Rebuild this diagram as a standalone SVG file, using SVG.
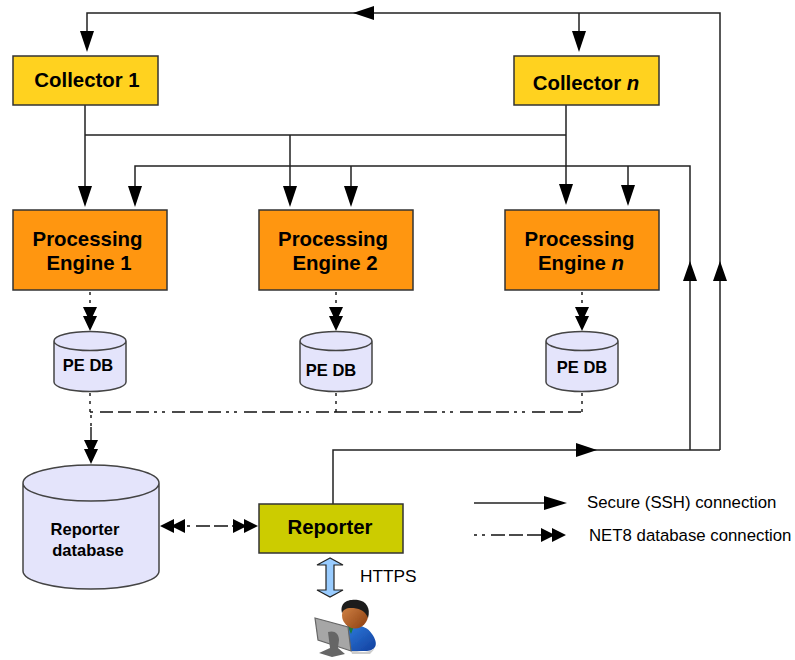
<svg xmlns="http://www.w3.org/2000/svg" width="795" height="660" viewBox="0 0 795 660">
<style>
text{font-family:"Liberation Sans",Arial,sans-serif;fill:#000}
.b{font-weight:bold;font-size:20.400px;text-anchor:middle}
.s{font-weight:bold;font-size:16.500px;text-anchor:middle}
.r{font-weight:bold;font-size:16.500px;text-anchor:middle}
.l{font-size:16.800px}
.box{stroke:#333;stroke-width:1.5}
.db{fill:#e4e4fb;stroke:#444;stroke-width:1.5}
.c{fill:none;stroke:#222;stroke-width:1.5}
.d{fill:none;stroke:#111;stroke-width:1.4;stroke-dasharray:13 5 13 5 13 5 3 5 3 7;stroke-dashoffset:62}
.o{fill:none;stroke:#111;stroke-width:1.4;stroke-dasharray:3 5}
.h{fill:#000}
</style>
<defs>
<path id="a" class="h" d="M-7-21H7L0 0Z"/>
<g id="aa"><path class="h" d="M-7-24H7L0-9Z"/><path class="h" d="M-7-15H7L0 0Z"/></g>
<linearGradient id="skin" x1="0" y1="0" x2="1" y2="1"><stop offset="0" stop-color="#d98a4a"/><stop offset="1" stop-color="#8a3d10"/></linearGradient>
<linearGradient id="suit" x1="0" y1="0" x2="1" y2="1"><stop offset="0" stop-color="#2f7fe0"/><stop offset="1" stop-color="#123f9e"/></linearGradient>
<filter id="soft" x="-10%" y="-10%" width="120%" height="120%"><feGaussianBlur stdDeviation="0.5"/></filter>
</defs>
<g id="connectors">
<path class="c" d="M720 450V13H87V40M579 13V40M85 105V190M85 135H566M566 105V190M290 135V190M135 190V166H690V450M351 166V190M628 166V190M333 505V450H720"/>
<use href="#a" x="87" y="52"/><use href="#a" x="579" y="52"/>
<path class="h" d="M353 13L374 6V20Z"/>
<use href="#a" x="85" y="207"/><use href="#a" x="135" y="207"/><use href="#a" x="290" y="207"/><use href="#a" x="351" y="207"/><use href="#a" x="566" y="205"/><use href="#a" x="628" y="206"/>
<path class="h" d="M690 261L683 281H697ZM720 261L713 281H727ZM597 450L576 443V457Z"/>
<path class="o" d="M90 292V310M336 292V310M582 292V310M90 393V412M336 393V412M582 393V412M91 415V426"/>
<path class="d" d="M90 412H582"/>
<path class="c" d="M91 427V445"/>
<use href="#aa" x="90" y="331"/><use href="#aa" x="336" y="331"/><use href="#aa" x="582" y="331"/><use href="#aa" x="91" y="464"/>
<path class="d" style="stroke-dasharray:3 6 14 4 14 4;stroke-dashoffset:0" d="M187 526H237"/>
<path class="h" d="M160 526L174 519V533ZM171 526L185 519V533ZM258 526L244 519V533ZM247 526L233 519V533Z"/>
<path class="c" d="M474 503H545"/><path class="h" d="M567 503L544 496V510Z"/>
<path class="d" style="stroke-dasharray:3 5 3 6 14 4 14 4 14 4;stroke-dashoffset:0" d="M474 535H545"/><path class="h" d="M555 535L541 528V542ZM566 535L552 528V542Z"/>
</g>
<g id="collector-1"><rect class="box" x="13" y="56" width="145" height="49" fill="#ffd21f"/><text class="b" x="87" y="87">Collector 1</text></g>
<g id="collector-n"><rect class="box" x="514" y="56" width="145" height="49" fill="#ffd21f"/><text class="b" x="586" y="90">Collector <tspan font-style="italic">n</tspan></text></g>
<g id="pe-1"><rect class="box" x="13" y="210" width="154" height="80" fill="#ff9610"/><text class="b" x="87.500" y="246">Processing</text><text class="b" x="89" y="270">Engine 1</text></g>
<g id="pe-2"><rect class="box" x="259" y="210" width="154" height="80" fill="#ff9610"/><text class="b" x="333" y="246">Processing</text><text class="b" x="335" y="270">Engine 2</text></g>
<g id="pe-n"><rect class="box" x="505" y="210" width="154" height="80" fill="#ff9610"/><text class="b" x="579.500" y="246">Processing</text><text class="b" x="581" y="270">Engine <tspan font-style="italic">n</tspan></text></g>
<g id="pedb-1"><path class="db" d="M54 341V382A36 9.500 0 0 0 126 382V341A36 9.500 0 0 0 54 341A36 9.500 0 0 0 126 341"/><text class="s" x="88" y="371">PE DB</text></g>
<g id="pedb-2"><path class="db" d="M300 341V382A36 9.500 0 0 0 372 382V341A36 9.500 0 0 0 300 341A36 9.500 0 0 0 372 341"/><text class="s" x="331" y="376">PE DB</text></g>
<g id="pedb-n"><path class="db" d="M546 341V382A36 9.500 0 0 0 618 382V341A36 9.500 0 0 0 546 341A36 9.500 0 0 0 618 341"/><text class="s" x="582" y="373">PE DB</text></g>
<g id="reporter-db"><path class="db" d="M23 483V571A68 18 0 0 0 159 571V483A68 18 0 0 0 23 483A68 18 0 0 0 159 483"/><text class="r" x="85" y="535">Reporter</text><text class="r" x="88" y="556">database</text></g>
<g id="reporter"><rect class="box" x="259" y="504" width="144" height="49" fill="#cccc00"/><text class="b" x="330" y="534">Reporter</text></g>
<g id="https"><path d="M330 558L317 565H326V590H317L330 597L343 590H334V565H343Z" fill="#99ccff" stroke="#222" stroke-width="1.200"/><text x="360" y="582" style="font-size:17.300px">HTTPS</text></g>
<g id="user" filter="url(#soft)">
<path d="M350 648C362 655 374 652 379 644L370 654H352Z" fill="#ccc"/>
<path d="M343 628C352 624 366 624 372 634C379 644 376 650 367 651L350 651Z" fill="url(#suit)"/>
<path d="M347 624L354 626L351 634Z" fill="#1a7a3a"/>
<ellipse cx="355" cy="615" rx="13" ry="13.500" fill="url(#skin)"/>
<path d="M342 613C339 600 352 599 358 600C366 601 371 608 368 618C365 610 358 608 351 608C346 608 343 610 342 613Z" fill="#1c1c1c"/>
<path d="M315 618L348 627L351 651L318 640Z" fill="#a6a6a6" stroke="#666" stroke-width="1.200"/>
<path d="M328 632C334 630 339 633 339 640L338 648L345 654L332 657L319 653L330 648Z" fill="#666"/>
</g>
<g id="legend"><text class="l" x="587" y="508">Secure (SSH) connection</text><text class="l" x="589" y="541">NET8 database connection</text></g>
</svg>
